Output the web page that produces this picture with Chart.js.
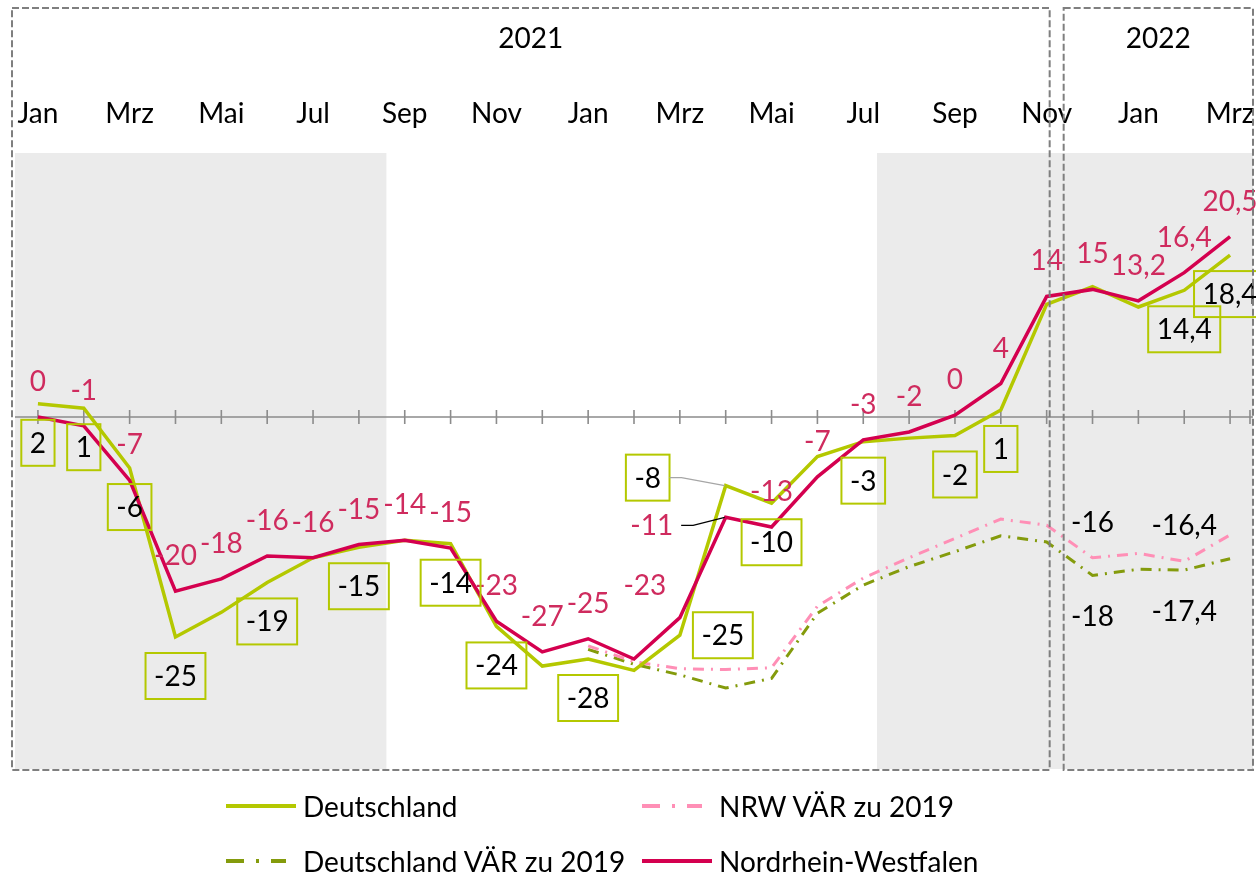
<!DOCTYPE html>
<html>
<head>
<meta charset="utf-8">
<script src="https://cdn.jsdelivr.net/npm/chart.js@4"></script>
<style>
  body { margin: 0; background: #fff; font-family: Lato, sans-serif; }
  #wrap { position: relative; width: 1256px; height: 877px; }
  #legend { position: absolute; left: 0; top: 0; width: 1256px; height: 877px; pointer-events: none; }
  .item { position: absolute; display: flex; align-items: center; height: 36px; font-size: 28px; color: #000; white-space: nowrap; }
  .item svg { margin-right: 7px; }
</style>
</head>
<body>
<div id="wrap">
  <canvas id="chart" width="1256" height="877"></canvas>
  <div id="legend"></div>
</div>
<script>
// months Jan 2020 .. Mrz 2022
const months = ['Jan','Feb','Mrz','Apr','Mai','Jun','Jul','Aug','Sep','Okt','Nov','Dez',
                'Jan','Feb','Mrz','Apr','Mai','Jun','Jul','Aug','Sep','Okt','Nov','Dez',
                'Jan','Feb','Mrz'];
const years = ['2021', '2022'];

const deutschland = [1.5, 1.0, -5.8, -25, -22.2, -18.8, -16.0, -14.8, -14.0, -14.4, -23.8, -28.3,
                     -27.5, -28.8, -24.8, -7.8, -9.8, -4.5, -2.8, -2.4, -2.1, 0.8, 12.8, 14.8,
                     12.5, 14.4, 18.4];
const nrw = [0, -1.0, -7.2, -19.8, -18.4, -15.8, -16.0, -14.5, -14.0, -14.9, -23.2, -26.7,
             -25.2, -27.5, -22.8, -11.4, -12.5, -6.8, -2.6, -1.7, 0.2, 3.8, 13.7, 14.5,
             13.2, 16.4, 20.5];
const nrwVaer = [null, null, null, null, null, null, null, null, null, null, null, null,
                 -26.0, -27.8, -28.6, -28.7, -28.5, -21.5, -18.3, -16.0, -13.8, -11.6, -12.3, -16.0,
                 -15.5, -16.4, -13.4];
const deVaer = [null, null, null, null, null, null, null, null, null, null, null, null,
                -26.4, -28.1, -29.3, -30.8, -29.7, -22.3, -19.1, -17.0, -15.3, -13.5, -14.2, -18.0,
                -17.3, -17.4, -16.1];

// label texts as printed in the chart
const deText = ['2','1','-6','-25',null,'-19',null,'-15',null,'-14','-24',null,
                '-28',null,'-25','-8','-10',null,'-3',null,'-2','1',null,null,
                null,'14,4','18,4'];
const nrwText = ['0','-1','-7','-20','-18','-16','-16','-15','-14','-15','-23','-27',
                 '-25',null,'-23','-11','-13','-7','-3','-2','0','4','14','15',
                 '13,2','16,4','20,5'];
const nrwVaerText = {23: '-16', 25: '-16,4'};
const deVaerText = {23: '-18', 25: '-17,4'};

// shaded periods, in category units
const shaded = [[-0.5, 7.6], [18.3, 26.5]];

const GREEN = '#b4c800', RED = '#d4004f', RED_TXT = '#cf2b5e', PINK = '#ff8fb6', OLIVE = '#849b0c';
const FONT = 'Lato, "Open Sans", sans-serif';

const labelSets = [
  { ds: 0, texts: nrwText, dy: -36, color: RED_TXT, box: false, shift: {14: [-35, -33], 15: [-74, 8]}, leader: {15: '#000000'} },
  { ds: 1, texts: deText, dy: 39, color: '#000', box: true, shift: {14: [43, 0], 15: [-78, -8]}, leader: {15: '#a6a6a6'} },
  { ds: 2, texts: nrwVaerText, dy: -36, color: '#000', box: false, shift: {} },
  { ds: 3, texts: deVaerText, dy: 41, color: '#000', box: false, shift: {} }
];

const decoPlugin = {
  id: 'deco',
  beforeDatasetsDraw(chart) {
    const {ctx, chartArea, scales: {x, y}} = chart;
    ctx.save();
    ctx.fillStyle = '#ebebeb';
    shaded.forEach(([a, b]) => {
      const x0 = Math.max(chartArea.left, x.getPixelForValue(a));
      const x1 = Math.min(chartArea.right, x.getPixelForValue(b));
      ctx.fillRect(x0, chartArea.top, x1 - x0, chartArea.bottom - chartArea.top);
    });
    // zero line with tick marks
    const y0 = y.getPixelForValue(0);
    ctx.strokeStyle = '#8c8c8c';
    ctx.lineWidth = 1.6;
    ctx.beginPath();
    ctx.moveTo(chartArea.left, y0);
    ctx.lineTo(chartArea.right, y0);
    for (let i = 0; i < months.length; i++) {
      const px = x.getPixelForValue(i);
      ctx.moveTo(px, y0 - 7);
      ctx.lineTo(px, y0 + 7);
    }
    ctx.moveTo(chartArea.right - 3, y0 - 7);
    ctx.lineTo(chartArea.right - 3, y0 + 7);
    ctx.stroke();
    ctx.restore();
  },
  afterDatasetsDraw(chart) {
    const {ctx} = chart;
    ctx.save();
    ctx.font = '28px ' + FONT;
    ctx.textAlign = 'center';
    ctx.textBaseline = 'middle';
    labelSets.forEach(set => {
      const meta = chart.getDatasetMeta(set.ds);
      Object.keys(set.texts).forEach(k => {
        const i = +k;
        const t = set.texts[i];
        if (t == null) return;
        const pt = meta.data[i];
        const [dx, dy] = set.shift[i] || [0, set.dy];
        const cx = pt.x + dx, cy = pt.y + dy;
        const w = ctx.measureText(t).width;
        if (set.box) {
          ctx.strokeStyle = GREEN;
          ctx.lineWidth = 2;
          ctx.strokeRect(cx - w / 2 - 8.5, cy - 23, w + 17, 46);
        }
        if (set.leader && set.leader[i]) {
          const sx = cx + w / 2 + (set.box ? 8.5 : 8);
          ctx.strokeStyle = set.leader[i];
          ctx.lineWidth = 1.2;
          ctx.beginPath();
          ctx.moveTo(sx, cy);
          ctx.lineTo(sx + 12, cy);
          ctx.lineTo(pt.x - 1, pt.y);
          ctx.stroke();
        }
        ctx.fillStyle = set.color;
        ctx.fillText(t, cx, cy + 1);
      });
    });
    ctx.restore();
  },
  afterDraw(chart) {
    const {ctx, chartArea, scales: {x}} = chart;
    const split = x.getPixelForValue(22);
    const boxes = [
      [chartArea.left - 3, split + 3],
      [split + 17, chartArea.right]
    ];
    ctx.save();
    ctx.strokeStyle = '#7f7f7f';
    ctx.lineWidth = 2;
    ctx.setLineDash([7, 3]);
    ctx.font = '28px ' + FONT;
    ctx.fillStyle = '#000';
    ctx.textAlign = 'center';
    ctx.textBaseline = 'middle';
    boxes.forEach(([l, r], i) => {
      ctx.strokeRect(l, 8, r - l, chartArea.bottom + 1 - 8);
      ctx.fillText(years[i], (l + r) / 2, 39);
    });
    ctx.restore();
  }
};

const ctx = document.getElementById('chart').getContext('2d');

new Chart(ctx, {
  type: 'line',
  data: {
    labels: months,
    datasets: [
      { label: 'Nordrhein-Westfalen', data: nrw, borderColor: RED, borderWidth: 3.5, order: 0 },
      { label: 'Deutschland', data: deutschland, borderColor: GREEN, borderWidth: 3.5, order: 1 },
      { label: 'NRW VÄR zu 2019', data: nrwVaer, borderColor: PINK, borderWidth: 3, borderDash: [11, 7, 2, 7], order: 2 },
      { label: 'Deutschland VÄR zu 2019', data: deVaer, borderColor: OLIVE, borderWidth: 3, borderDash: [11, 7, 2, 7], order: 3 }
    ]
  },
  options: {
    responsive: false,
    animation: false,
    layout: { padding: { left: 15, right: 3, top: 0, bottom: 108 } },
    elements: { point: { radius: 0 }, line: { tension: 0 } },
    plugins: {
      legend: { display: false },
      tooltip: { enabled: false }
    },
    scales: {
      x: {
        position: 'top',
        offset: true,
        grid: { display: false, drawTicks: false, tickLength: 0 },
        border: { display: false },
        afterFit(scale) {
          scale.height = 153;
          scale.paddingLeft = 0;
          scale.paddingRight = 0;
        },
        ticks: {
          autoSkip: false,
          maxRotation: 0,
          padding: 22,
          color: '#000',
          font: { family: FONT, size: 28 },
          callback(v, i) { return i % 2 === 0 ? months[i] : ''; }
        }
      },
      y: {
        display: false,
        min: -40,
        max: 30
      }
    }
  },
  plugins: [decoPlugin]
});

// legend in two columns
const legendItems = [
  { text: 'Deutschland', color: GREEN, dash: null, len: 70, left: 226, top: 788 },
  { text: 'NRW VÄR zu 2019', color: PINK, dash: '18 12 3 12 18', len: 60, left: 642, top: 788 },
  { text: 'Deutschland VÄR zu 2019', color: OLIVE, dash: '18 12 3 12 18', len: 60, left: 226, top: 843 },
  { text: 'Nordrhein-Westfalen', color: RED, dash: null, len: 70, left: 642, top: 843 }
];
const legend = document.getElementById('legend');
legendItems.forEach(it => {
  const el = document.createElement('div');
  el.className = 'item';
  el.style.left = it.left + 'px';
  el.style.top = it.top + 'px';
  el.innerHTML = '<svg width="70" height="10"><line x1="0" y1="5" x2="' + it.len + '" y2="5" stroke="' + it.color +
    '" stroke-width="4"' + (it.dash ? ' stroke-dasharray="' + it.dash + '"' : '') + '/></svg><span>' + it.text + '</span>';
  legend.appendChild(el);
});
</script>
</body>
</html>
